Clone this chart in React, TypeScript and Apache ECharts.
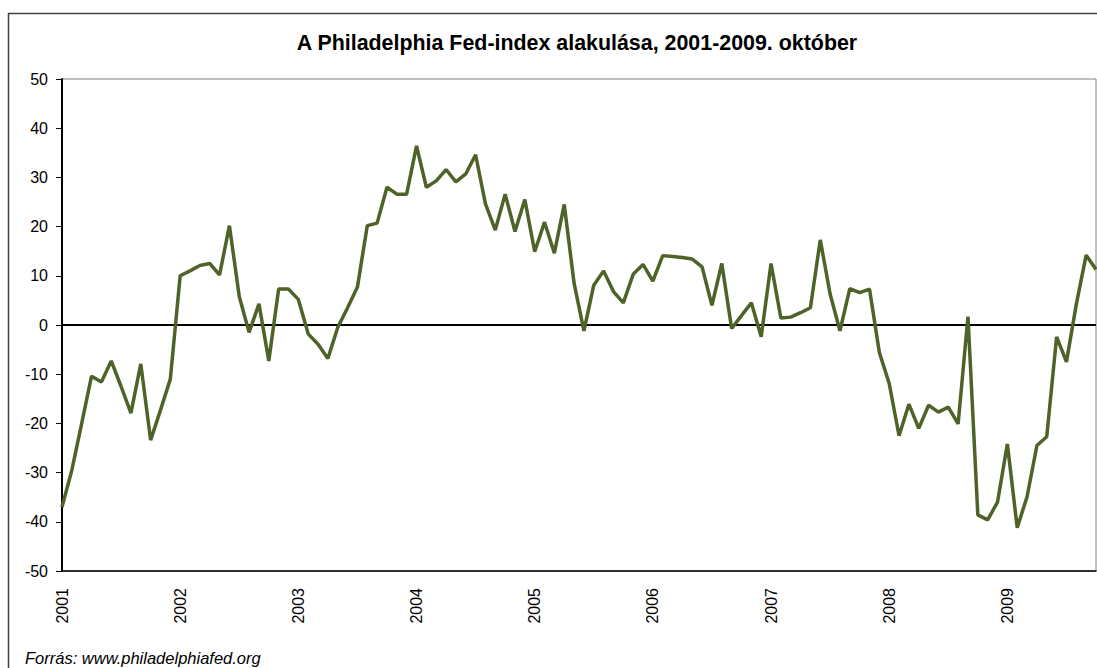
import React, { useEffect, useRef } from "react";
import * as echarts from "echarts";

const years = ["2001", "2002", "2003", "2004", "2005", "2006", "2007", "2008", "2009"];

const v2001 = [-37, -29.5, -20, -10.4, -11.6, -7.3, -12.5, -17.9, -7.9, -23.4, -17.3, -11];
const v2002 = [10, 11, 12.1, 12.5, 10.2, 20.2, 5.8, -1.5, 4.3, -7.3, 7.3, 7.3];
const v2003 = [5.2, -1.8, -3.9, -6.8, -0.5, 3.5, 7.7, 20.2, 20.7, 28.0, 26.6, 26.6];
const v2004 = [36.4, 28.0, 29.3, 31.6, 29.1, 30.7, 34.6, 24.6, 19.3, 26.6, 19.0, 25.5];
const v2005 = [14.9, 20.9, 14.6, 24.5, 8.5, -1.2, 8.1, 11.0, 6.8, 4.5, 10.3, 12.3];
const v2006 = [8.9, 14.1, 13.9, 13.7, 13.4, 11.8, 4.0, 12.5, -0.7, 1.9, 4.5, -2.4];
const v2007 = [12.5, 1.4, 1.6, 2.5, 3.5, 17.3, 6.3, -1.2, 7.4, 6.6, 7.3, -5.6];
const v2008 = [-11.9, -22.5, -16.1, -21.0, -16.3, -17.7, -16.7, -20.1, 1.7, -38.6, -39.6, -36.0];
const v2009 = [-24.2, -41.2, -34.9, -24.5, -22.7, -2.4, -7.5, 4.2, 14.2, 11.3];

const yearValues = [v2001, v2002, v2003, v2004, v2005, v2006, v2007, v2008, v2009];

const titleText = "A Philadelphia Fed-index alakulása, 2001-2009. október";
const sourceText = "Forrás: www.philadelphiafed.org";

const FONT = '"Liberation Sans", Arial, sans-serif';

export default function App() {
  const ref = useRef<HTMLDivElement>(null);

  useEffect(() => {
    if (!ref.current) return;
    const chart = echarts.init(ref.current, null, { renderer: "svg" });

    const categories: string[] = [];
    const values: number[] = [];
    yearValues.forEach((arr, yi) => {
      arr.forEach((v, mi) => {
        categories.push(years[yi] + "-" + String(mi + 1).padStart(2, "0"));
        values.push(v);
      });
    });

    chart.setOption({
      animation: false,
      backgroundColor: "#ffffff",
      textStyle: { fontFamily: FONT },
      grid: {
        left: 62,
        right: 1,
        top: 79,
        bottom: 97,
        show: true,
        borderColor: "#808080",
        borderWidth: 1,
        containLabel: false,
      },
      xAxis: {
        type: "category",
        data: categories,
        boundaryGap: false,
        axisLine: { onZero: false, lineStyle: { color: "#000", width: 1.5 } },
        axisTick: { show: false },
        splitLine: { show: false },
        axisLabel: {
          interval: (i: number) => i % 12 === 0,
          formatter: (v: string) => v.slice(0, 4),
          rotate: 90,
          fontSize: 16,
          color: "#000",
          fontFamily: FONT,
          margin: 17,
        },
      },
      yAxis: {
        type: "value",
        min: -50,
        max: 50,
        interval: 10,
        axisLine: { show: true, onZero: false, lineStyle: { color: "#000", width: 2 } },
        axisTick: { show: true, length: 6, lineStyle: { color: "#000", width: 1 } },
        splitLine: { show: false },
        axisLabel: { fontSize: 16, color: "#000", fontFamily: FONT, margin: 14 },
      },
      series: [
        {
          type: "line",
          data: values,
          symbol: "none",
          lineStyle: { color: "#4f6228", width: 3.5 },
          z: 3,
          markLine: {
            silent: true,
            symbol: "none",
            z: 1,
            label: { show: false },
            lineStyle: { color: "#000", width: 2, type: "solid" },
            data: [{ yAxis: 0 }],
          },
        },
      ],
      graphic: [
        {
          type: "rect",
          shape: { x: 8.5, y: 13.5, width: 1200, height: 800 },
          style: { fill: "none", stroke: "#404040", lineWidth: 1.5 },
          silent: true,
        },
        {
          type: "text",
          x: 577,
          y: 43,
          style: {
            text: titleText,
            font: "bold 21.4px " + FONT,
            textAlign: "center",
            textVerticalAlign: "middle",
            fill: "#000",
          },
        },
        {
          type: "text",
          x: 25,
          y: 658,
          style: {
            text: sourceText,
            font: "italic 16.5px " + FONT,
            textAlign: "left",
            textVerticalAlign: "middle",
            fill: "#000",
          },
        },
      ],
    });

    return () => chart.dispose();
  }, []);

  return (
    <div
      ref={ref}
      style={{ position: "fixed", left: 0, top: 0, width: 1097, height: 668 }}
    />
  );
}
